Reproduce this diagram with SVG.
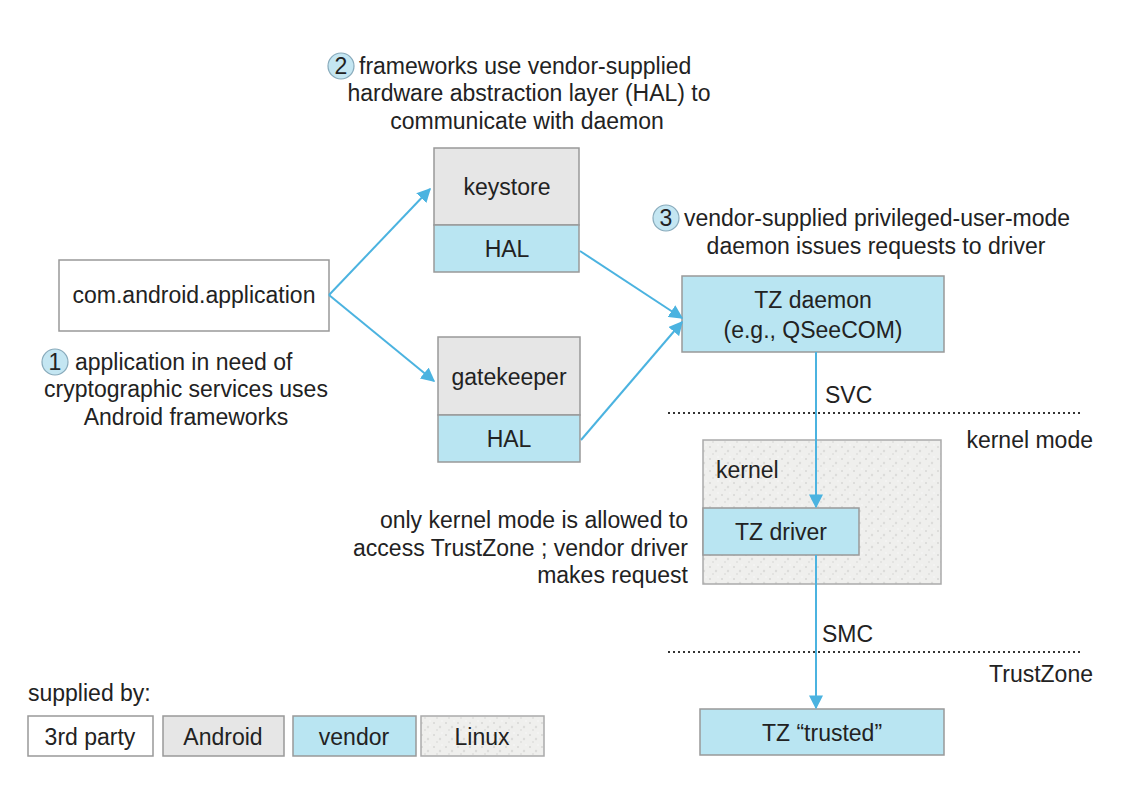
<svg xmlns="http://www.w3.org/2000/svg" width="1122" height="810" viewBox="0 0 1122 810">
<style>
text{font-family:"Liberation Sans",Arial,sans-serif;font-size:23px;fill:#222}
.c{text-anchor:middle}.r{text-anchor:end}
.w{fill:#fff;stroke:#999;stroke-width:1.5}
.g{fill:#e6e6e6;stroke:#999;stroke-width:1.5}
.b{fill:#b9e5f2;stroke:#999;stroke-width:1.5}
.k{fill:url(#tex);stroke:#aaa;stroke-width:1.5}
.a{stroke:#4bb3e0;stroke-width:2;fill:none;marker-end:url(#ah)}
.d{stroke:#333;stroke-width:2;stroke-dasharray:2 3}
.n{fill:#c4e6f2;stroke:#8ab;stroke-width:1.2}
</style>
<defs>
<marker id="ah" viewBox="0 0 10 10" refX="9" refY="5" markerWidth="7" markerHeight="7" orient="auto"><path d="M0,0L10,5L0,10z" fill="#4bb3e0"/></marker>
<pattern id="tex" width="12" height="12" patternUnits="userSpaceOnUse">
<rect width="12" height="12" fill="#efefed"/>
<circle cx="2" cy="3" r="1" fill="#d8d8d6"/><circle cx="8" cy="7" r="1.2" fill="#dcdcda"/><circle cx="5" cy="10" r="0.8" fill="#d4d4d2"/><circle cx="10" cy="1" r="0.8" fill="#fafafa"/>
</pattern>
</defs>
<rect width="1122" height="810" fill="#fff"/>
<g id="app"><rect class="w" x="59" y="260" width="270" height="71"/><text class="c" x="194" y="303">com.android.application</text></g>
<g id="keystore"><rect class="g" x="434" y="148" width="145" height="77"/><rect class="b" x="434" y="225" width="145" height="47"/><text class="c" x="507" y="195">keystore</text><text class="c" x="507" y="257">HAL</text></g>
<g id="gatekeeper"><rect class="g" x="438" y="337" width="142" height="78"/><rect class="b" x="438" y="415" width="142" height="47"/><text class="c" x="509" y="385">gatekeeper</text><text class="c" x="509" y="447">HAL</text></g>
<g id="tzdaemon"><rect class="b" x="682" y="276" width="262" height="76"/><text class="c" x="813" y="308">TZ daemon</text><text class="c" x="813" y="338">(e.g., QSeeCOM)</text></g>
<g id="kernel"><rect class="k" x="703" y="440" width="238" height="144"/><text x="716" y="478">kernel</text></g>
<g id="tzdriver"><rect class="b" x="703" y="508" width="156" height="47"/><text class="c" x="781" y="540">TZ driver</text></g>
<g id="tztrusted"><rect class="b" x="700" y="709" width="244" height="46"/><text class="c" x="822" y="741">TZ “trusted”</text></g>
<g id="connectors">
<line class="a" x1="329" y1="295" x2="430" y2="189"/>
<line class="a" x1="329" y1="295" x2="434" y2="381"/>
<line class="a" x1="580" y1="251" x2="682" y2="318"/>
<line class="a" x1="581" y1="440" x2="682" y2="322"/>
<line class="a" x1="816" y1="352" x2="816" y2="507"/>
<line class="a" x1="816" y1="555" x2="816" y2="708"/>
<line class="d" x1="668" y1="413" x2="1083" y2="413"/>
<line class="d" x1="668" y1="652" x2="1083" y2="652"/>
</g>
<g id="labels">
<circle class="n" cx="55" cy="362" r="13"/><text class="c" x="55" y="370">1</text>
<text x="75" y="370">application in need of</text>
<text class="c" x="186" y="397">cryptographic services uses</text>
<text class="c" x="186" y="425">Android frameworks</text>
<circle class="n" cx="341" cy="66" r="13"/><text class="c" x="341" y="74">2</text>
<text x="359" y="74">frameworks use vendor-supplied</text>
<text class="c" x="529" y="101">hardware abstraction layer (HAL) to</text>
<text class="c" x="527" y="129">communicate with daemon</text>
<circle class="n" cx="666" cy="218" r="13"/><text class="c" x="666" y="226">3</text>
<text x="684" y="226">vendor-supplied privileged-user-mode</text>
<text class="c" x="876" y="254">daemon issues requests to driver</text>
<text x="825" y="403">SVC</text>
<text class="r" x="1093" y="448">kernel mode</text>
<text class="r" x="688" y="528">only kernel mode is allowed to</text>
<text class="r" x="688" y="556">access TrustZone ; vendor driver</text>
<text class="r" x="688" y="583">makes request</text>
<text x="822" y="642">SMC</text>
<text class="r" x="1093" y="682">TrustZone</text>
</g>
<g id="legend">
<text x="28" y="701">supplied by:</text>
<rect class="w" x="28" y="716" width="125" height="40"/><text class="c" x="90" y="745">3rd party</text>
<rect class="g" x="163" y="716" width="121" height="40"/><text class="c" x="223" y="745">Android</text>
<rect class="b" x="293" y="716" width="123" height="40"/><text class="c" x="354" y="745">vendor</text>
<rect class="k" x="421" y="716" width="123" height="40"/><text class="c" x="482" y="745">Linux</text>
</g>
</svg>
